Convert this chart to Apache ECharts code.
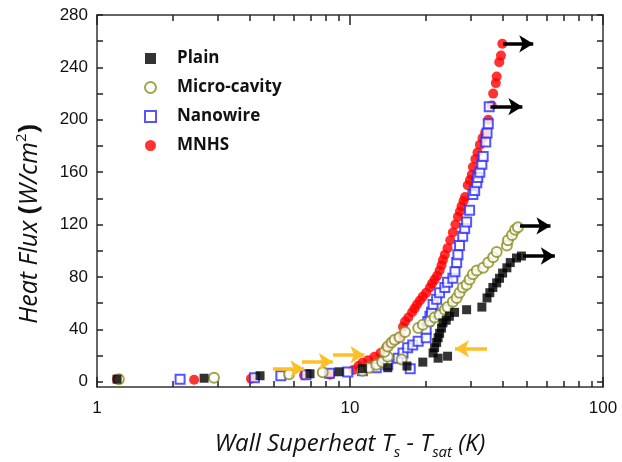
<!DOCTYPE html>
<html>
<head>
<meta charset="utf-8">
<script src="https://cdn.jsdelivr.net/npm/echarts@6/dist/echarts.min.js"></script>
<style>html,body{margin:0;padding:0;background:#fff}#c{width:622px;height:462px}</style>
</head>
<body>
<div id="c"></div>
<script>
// ---- data (x = wall superheat K, y = heat flux W/cm2) ----
const plain = [[1.2,2],[2.65,2.7],[4.41,4.6],[6.95,6.1],[9.05,7.6],[11.2,10],[14.1,10.7],[16.8,12],[19.4,15],[21.3,22],[22.3,18],[24.3,19.5],[21.6,26],[22.0,30],[22.3,33.6],[22.6,37],[23.0,41],[23.3,45],[24.0,47],[24.7,50],[25.9,53],[28.9,55],[33.2,57],[34.8,64],[35.7,68],[36.7,72],[38.0,75.5],[39.0,79],[40.1,83],[41.7,87],[43.0,91],[45.5,94.5],[47.6,96]];
const microCavity = [[1.22,2],[2.9,3],[5.74,5.7],[7.8,7.2],[11.2,8.4],[11.9,10.7],[12.7,13],[13.4,15],[14.1,19],[13.7,23],[14.1,27],[14.6,30],[15.0,32],[15.7,34],[16.5,38],[16.0,17],[18.6,41],[19.4,43.5],[20.7,46],[21.6,49],[22.6,51],[23.7,55],[24.3,57],[25.5,61],[26.4,64],[27.1,68],[27.9,72],[28.9,74],[29.7,78],[30.6,82],[31.7,85],[33.6,87],[35.2,91],[36.8,95],[38.0,99],[41.7,104],[42.1,108],[43.7,112],[44.9,116],[46.1,118]];
const nanowire = [[2.13,2],[4.19,3],[5.33,4.6],[6.7,5.3],[8.3,6.5],[9.8,7.5],[11.2,8.4],[12.7,10.7],[14.1,13],[15.5,18],[16.2,22],[16.9,26],[17.3,10],[17.7,28],[18.6,31],[20.0,33.6],[20.0,40],[20.3,46],[20.7,50],[21.0,53],[21.3,59],[22.0,63],[22.6,68],[23.7,72],[24.3,76],[25.5,79],[26.0,84],[26.4,91],[26.7,97],[27.1,104],[27.9,111],[28.4,117],[28.9,122],[29.7,131],[30.6,143],[31.1,146],[31.7,152],[32.0,156],[32.6,160],[33.2,166],[33.6,172],[34.4,183],[34.8,190],[35.2,197],[35.5,210]];
const mnhs = [[1.2,2],[2.42,1.5],[4.06,2.3],[6.58,5],[8.34,5.3],[10.3,9],[10.8,12],[11.2,14.5],[11.8,16.5],[12.5,19],[13.2,22],[13.9,26],[14.6,30],[15.2,32],[15.7,34],[16.2,42],[16.5,46],[17.0,49],[17.6,53],[18.0,56],[18.4,59],[18.9,62],[19.4,65],[20.0,68],[20.7,72],[21.1,75],[21.6,78],[22.1,81],[22.6,85],[23.0,89],[23.3,93],[23.7,97],[24.3,102],[24.9,108],[25.5,114],[26.1,120],[26.7,126],[27.2,130],[27.6,134],[28.1,138],[28.5,141],[29.2,150],[29.8,154],[30.3,158],[30.6,164],[31.3,170],[31.9,175],[32.6,181],[33.4,186],[34.2,190],[35.2,200],[36.3,211],[36.8,220],[37.7,228],[38.0,233],[38.9,244],[39.5,249],[40.0,258]];

// annotation arrows: [x start, x end, y]
const blackArrows = [[40.3,53,258],[35.9,48,210],[47,62,119],[48.3,64.5,96]];
const yellowArrows = [[4.96,6.6,9.9],[6.46,8.55,15.3],[8.57,11.4,20.6],[34.8,26.0,25.2]];

const yLabelValues = [0,40,80,120,160,200,240,280];
const yMajorTicks = [0,40,80,120,160,200,240,280];
const yMinorTicks = [20,60,100,140,180,220,260];
const xLabelValues = [1,10,100];
const xMinorTicksA = [2,3,4,5,6,7,8,9];
const xMinorTicksB = [20,30,40,50,60,70,80,90];
const xMajorTicks = [1,10,100];

const seriesNames = ['Plain','Micro-cavity','Nanowire','MNHS'];

const chart = echarts.init(document.getElementById('c'));
const axisCol = '#333';
const tickCol = '#222';
const baseX = (pos, show, ticks, len) => ({
  type:'log', logBase:10, min:1, max:100, position:pos,
  axisLine:{show:show, onZero:false, lineStyle:{color:axisCol, width:1.5}},
  axisTick:{show:true, inside:true, length:len, customValues:ticks.slice(), lineStyle:{color:tickCol, width:1.5}},
  axisLabel:{show:false},
  splitLine:{show:false}
});
const baseY = (pos, show, ticks) => ({
  type:'value', min:-4, max:280, position:pos,
  axisLine:{show:show, onZero:false, lineStyle:{color:axisCol, width:1.5}},
  axisTick:{show:true, inside:true, length:6, customValues:ticks.slice(), lineStyle:{color:tickCol, width:1.5}},
  axisLabel:{show:false},
  splitLine:{show:false}
});

const xMain = baseX('bottom', true, xMinorTicksA, 6);
xMain.axisLabel = {show:true, customValues:xLabelValues, fontFamily:'Liberation Sans, Arial', fontSize:17, color:'#111', margin:13};
xMain.name = '{a|Wall Superheat T}{s|s}{a| - T}{s|sat}{a| (K)}';
xMain.nameLocation = 'middle';
xMain.nameGap = 41;
xMain.nameTextStyle = {rich:{
  a:{fontFamily:'Open Sans', fontStyle:'italic', fontSize:24, color:'#111'},
  s:{fontFamily:'Open Sans', fontStyle:'italic', fontSize:15, color:'#111', padding:[17,0,0,0]}
}};

const yMain = baseY('left', true, yMajorTicks);
yMain.axisLabel = {show:true, customValues:yLabelValues, fontFamily:'Liberation Sans, Arial', fontSize:17, color:'#111', margin:9};
yMain.name = '{a|Heat Flux }{p|(}{a|W/cm}{u|2}{p|)}';
yMain.nameLocation = 'middle';
yMain.nameGap = 52;
yMain.nameRotate = 90;
yMain.nameTextStyle = {padding:[0,46,0,0], rich:{
  a:{fontFamily:'Open Sans', fontStyle:'italic', fontSize:25, color:'#111'},
  p:{fontFamily:'Open Sans', fontWeight:'bold', fontSize:27, color:'#111'},
  u:{fontFamily:'Open Sans', fontSize:15, color:'#111', padding:[0,0,16,0]}
}};

const mkArrows = arr => arr.map(a => [
  {coord:[a[0], a[2]]},
  {coord:[a[1], a[2]]}
]);

const scatterBase = {type:'scatter', xAxisIndex:0, yAxisIndex:0, animation:false};

const option = {
  animation:false,
  backgroundColor:'#fff',
  grid:{left:97, right:19, top:15, bottom:75, outerBoundsMode:'none'},
  xAxis:[
    xMain,
    baseX('bottom', false, xMinorTicksB, 6),
    baseX('bottom', false, xMajorTicks, 10),
    baseX('top', true, xMinorTicksA, 6),
    baseX('top', false, xMinorTicksB, 6),
    baseX('top', false, xMajorTicks, 10)
  ],
  yAxis:[
    yMain,
    baseY('left', false, yMinorTicks),
    baseY('right', true, yMajorTicks),
    baseY('right', false, yMinorTicks)
  ],
  legend:{
    show:true, orient:'vertical', left:139, top:45, itemGap:12,
    itemWidth:11, itemHeight:11,
    data:seriesNames,
    formatter:'{t|{name}}',
    textStyle:{rich:{t:{fontFamily:'Open Sans', fontWeight:'bold', fontSize:17, color:'#111', padding:[0,0,0,16]}}}
  },
  series:[
    Object.assign({}, scatterBase, {name:'MNHS', data:mnhs, symbol:'circle', symbolSize:10, itemStyle:{color:'#ff0000'}, z:2}),
    Object.assign({}, scatterBase, {name:'Nanowire', data:nanowire, symbol:'emptyRect', symbolSize:9, itemStyle:{color:'#2a2aff', borderWidth:1.2}, z:3}),
    Object.assign({}, scatterBase, {name:'Micro-cavity', data:microCavity, symbol:'emptyCircle', symbolSize:10, itemStyle:{color:'#8c8c1e', borderWidth:1.2}, z:4}),
    Object.assign({}, scatterBase, {name:'Plain', data:plain, symbol:'rect', symbolSize:9, itemStyle:{color:'#000'}, z:5}),
    {type:'line', name:'blackArrows', xAxisIndex:0, yAxisIndex:0, data:[], z:6, markLine:{silent:true, animation:false, symbol:['none','arrow'], symbolSize:[13,14], label:{show:false},
      lineStyle:{color:'#000', width:3.5, type:'solid'}, data:mkArrows(blackArrows)}},
    {type:'line', name:'yellowArrows', xAxisIndex:0, yAxisIndex:0, data:[], z:6, markLine:{silent:true, animation:false, symbol:['none','arrow'], symbolSize:[13,14], label:{show:false},
      lineStyle:{color:'#ffbf26', width:3.5, type:'solid'}, data:mkArrows(yellowArrows)}}
  ]
};
chart.setOption(option);
</script>
</body>
</html>
